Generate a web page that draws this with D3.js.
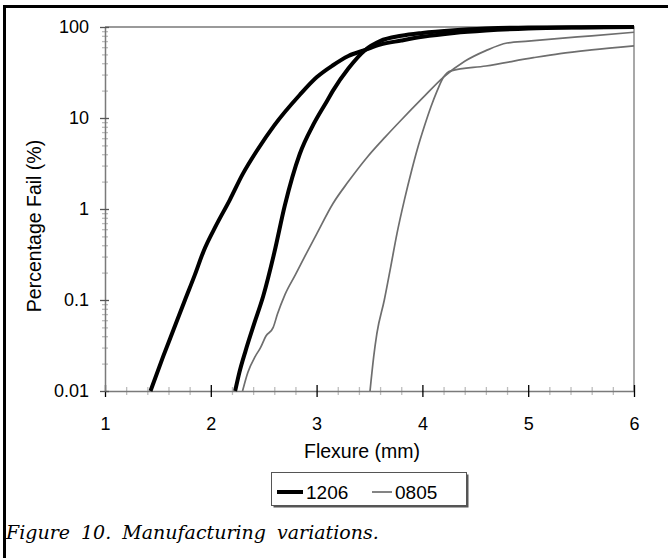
<!DOCTYPE html>
<html>
<head>
<meta charset="utf-8">
<script src="https://cdn.jsdelivr.net/npm/d3@7/dist/d3.min.js"></script>
<style>
  body { margin: 0; background: #fff; }
  svg { display: block; }
  text { font-family: "Liberation Sans", Arial, sans-serif; fill: #000; }
</style>
</head>
<body>
<div id="chart"></div>
<script>
'use strict'

// data
let xTicks = [1, 2, 3, 4, 5, 6]
let yTicks = [0.01, 0.1, 1, 10, 100]
let yTickLabels = ["0.01", "0.1", "1", "10", "100"]

// 1206, first lot
let x1206a = [1.43, 1.55, 1.65, 1.756, 1.85, 1.93, 2.05, 2.18, 2.3, 2.44, 2.6, 2.84, 3.0, 3.155, 3.3, 3.46, 3.6, 3.8, 4.0, 4.3, 4.6, 5.0, 5.5, 6.0]
let y1206a = [0.01, 0.024, 0.048, 0.1, 0.19, 0.34, 0.66, 1.26, 2.4, 4.45, 8.3, 17.9, 28, 38, 48, 56, 64, 71, 78, 86, 91.5, 96.3, 98.8, 100]
// 1206, second lot
let x1206b = [2.23, 2.27, 2.33, 2.41, 2.495, 2.6, 2.7, 2.84, 2.97, 3.1, 3.155, 3.3, 3.46, 3.6, 3.8, 4.0, 4.3, 4.6, 5.0, 5.5, 6.0]
let y1206b = [0.01, 0.016, 0.028, 0.055, 0.11, 0.33, 1.1, 4.0, 8.5, 15.5, 20, 35, 56, 70, 80, 86, 92, 96, 98.8, 99.6, 100]
// 0805, first lot
let x0805a = [2.3, 2.35, 2.42, 2.47, 2.52, 2.59, 2.63, 2.7, 2.8, 2.9, 3.0, 3.155, 3.3, 3.48, 3.65, 3.8, 4.0, 4.2, 4.4, 4.6, 4.8, 5.0, 5.3, 5.6, 6.0]
let y0805a = [0.01, 0.016, 0.024, 0.03, 0.04, 0.05, 0.07, 0.114, 0.19, 0.32, 0.53, 1.15, 2.0, 3.73, 6.2, 9.5, 16.5, 28.2, 42, 55, 66.7, 70, 75, 80, 87.5]
// 0805, second lot
let x0805b = [3.505, 3.54, 3.57, 3.64, 3.7, 3.76, 3.83, 3.9, 3.95, 4.02, 4.08, 4.14, 4.2, 4.27, 4.6, 5.05, 5.3, 5.6, 6.0]
let y0805b = [0.01, 0.024, 0.043, 0.1, 0.23, 0.54, 1.26, 2.7, 4.45, 8.2, 13.2, 20, 28.2, 33, 37.3, 46, 51, 56, 62]

let series = [
  { name: "1206", xs: x1206a, ys: y1206a },
  { name: "1206", xs: x1206b, ys: y1206b },
  { name: "0805", xs: x0805a, ys: y0805a },
  { name: "0805", xs: x0805b, ys: y0805b }
]
let legendItems = ["1206", "0805"]

let width = 668
let height = 558
let plot = { left: 105, right: 634, top: 27, bottom: 391 }

let styles = {
  "1206": { color: "#000", width: 4, sample: 26 },
  "0805": { color: "#6e6e6e", width: 1.7, sample: 20 }
}

let svg = d3.select("#chart").append("svg")
  .attr("width", width)
  .attr("height", height)

// outer frame (top and left only are visible)
svg.append("line")
  .attr("x1", 3).attr("x2", width).attr("y1", 6.5).attr("y2", 6.5)
  .attr("stroke", "#000").attr("stroke-width", 3)
svg.append("line")
  .attr("x1", 4.5).attr("x2", 4.5).attr("y1", 5).attr("y2", height)
  .attr("stroke", "#000").attr("stroke-width", 3)

let x = d3.scaleLinear().domain([1, 6]).range([plot.left, plot.right])
let y = d3.scaleLog().domain([0.01, 100]).range([plot.bottom, plot.top])

// plot border top / right
svg.append("path")
  .attr("d", "M" + plot.left + "," + plot.top + "H" + plot.right + "V" + plot.bottom)
  .attr("fill", "none").attr("stroke", "#7a7a7a").attr("stroke-width", 1.3)

// minor ticks
let xMinor = d3.range(1, 6.001, 0.2).filter(v => Math.abs(v - Math.round(v)) > 0.01)
let yMinor = []
for (let k = -2; k < 2; k++) {
  for (let m = 2; m <= 9; m++) yMinor.push(m * Math.pow(10, k))
}

let gxMinor = svg.append("g")
  .attr("transform", "translate(0," + plot.bottom + ")")
  .call(d3.axisBottom(x).tickValues(xMinor).tickSize(8).tickFormat(""))
gxMinor.select(".domain").remove()
gxMinor.selectAll(".tick line").attr("y1", -4).attr("y2", 4).attr("stroke", "#bdbdbd").attr("stroke-width", 1.3)

let gyMinor = svg.append("g")
  .attr("transform", "translate(" + plot.left + ",0)")
  .call(d3.axisLeft(y).tickValues(yMinor).tickSize(8).tickFormat(""))
gyMinor.select(".domain").remove()
gyMinor.selectAll(".tick line").attr("x1", -3).attr("x2", 3).attr("stroke", "#bdbdbd").attr("stroke-width", 1.3)

// main axes
let gx = svg.append("g")
  .attr("transform", "translate(0," + plot.bottom + ")")
  .call(d3.axisBottom(x).tickValues(xTicks).tickSize(6).tickPadding(20).tickSizeOuter(0).tickFormat(d3.format("d")))
gx.select(".domain").attr("stroke", "#7a7a7a").attr("stroke-width", 1.5)
gx.selectAll(".tick line").attr("y1", -6).attr("y2", 6).attr("stroke", "#000").attr("stroke-width", 1.3)
gx.selectAll(".tick text").style("font-size", "18px").style("font-family", "Liberation Sans, Arial, sans-serif")

let gy = svg.append("g")
  .attr("transform", "translate(" + plot.left + ",0)")
  .call(d3.axisLeft(y).tickValues(yTicks).tickSize(5).tickPadding(11).tickSizeOuter(0)
    .tickFormat((d, i) => yTickLabels[i]))
gy.select(".domain").attr("stroke", "#7a7a7a").attr("stroke-width", 1.5)
gy.selectAll(".tick line").attr("x1", -5).attr("x2", 4).attr("stroke", "#555").attr("stroke-width", 1.3)
gy.selectAll(".tick text").style("font-size", "18px").style("font-family", "Liberation Sans, Arial, sans-serif")

// axis titles
svg.append("text")
  .attr("x", 362)
  .attr("y", 458)
  .attr("text-anchor", "middle")
  .style("font-size", "19.5px")
  .text("Flexure (mm)")

svg.append("text")
  .attr("text-anchor", "middle")
  .attr("transform", "translate(41,226)rotate(-90)")
  .style("font-size", "19.5px")
  .text("Percentage Fail (%)")

// curves
let line = d3.line()
  .x(d => x(d[0]))
  .y(d => y(d[1]))
  .curve(d3.curveMonotoneX)

// grey first so the black ones sit on top
let order = [2, 3, 0, 1]
order.forEach(function (i) {
  let s = series[i]
  let pts = s.xs.map((v, j) => [v, s.ys[j]])
  svg.append("path")
    .datum(pts)
    .attr("d", line)
    .attr("fill", "none")
    .attr("stroke", styles[s.name].color)
    .attr("stroke-width", styles[s.name].width)
    .attr("stroke-linejoin", "round")
})

// legend
let lg = svg.append("g").attr("transform", "translate(271,472)")
lg.append("rect")
  .attr("x", 2.5).attr("y", 2.5).attr("width", 195).attr("height", 33)
  .attr("fill", "#555")
lg.append("rect")
  .attr("x", 0.5).attr("y", 0.5).attr("width", 195).attr("height", 33)
  .attr("fill", "#fff").attr("stroke", "#555").attr("stroke-width", 1)

let items = lg.selectAll(".legend")
  .data(legendItems)
  .enter()
  .append("g")
  .attr("class", "legend")
  .attr("transform", (d, i) => "translate(" + (6 + i * 95) + ",0)")

items.append("line")
  .attr("x1", 0).attr("x2", d => styles[d].sample).attr("y1", 20).attr("y2", 20)
  .attr("stroke", d => styles[d].color)
  .attr("stroke-width", d => styles[d].width)

items.append("text")
  .attr("x", d => styles[d].sample + 3).attr("y", 27)
  .style("font-size", "19px")
  .text(d => d)

// caption
svg.append("text")
  .attr("x", 6).attr("y", 539)
  .style("font-family", "DejaVu Serif, serif")
  .style("font-style", "italic")
  .style("font-size", "19px")
  .style("word-spacing", "5px")
  .text("Figure 10. Manufacturing variations.")
</script>
</body>
</html>
